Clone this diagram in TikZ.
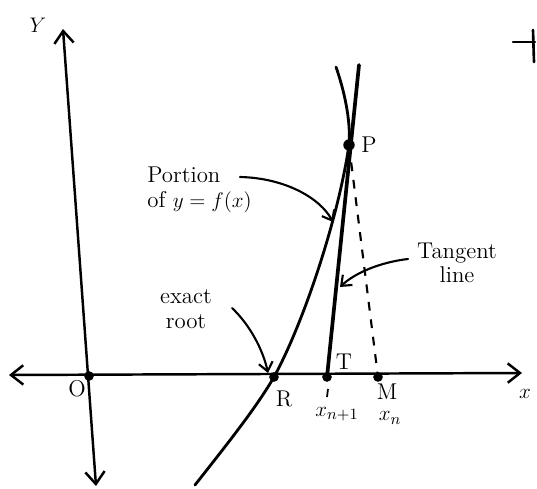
\documentclass[tikz,border=0pt]{standalone}
\usetikzlibrary{arrows.meta}
\begin{document}
\begin{tikzpicture}[x=0.02cm,y=-0.02cm,
  axis/.style={line width=1.4pt,line cap=round},
  curvel/.style={line width=1.6pt,line cap=round},
  tang/.style={line width=2.1pt,line cap=round},
  dashl/.style={line width=1.2pt,dash pattern=on 5pt off 5pt},
  pointer/.style={line width=1.2pt,line cap=round,-{Straight Barb[length=5pt,width=8pt,line width=1.2pt]}},
  dot/.style={circle,fill=black,inner sep=0pt,minimum size=5.5pt},
  lbl/.style={font=\fontsize{13}{15}\selectfont,inner sep=0pt},
  txt/.style={font=\fontsize{13}{14}\selectfont,align=center,inner sep=0pt}]
\useasboundingbox (0,0) rectangle (537,489);
% points
\node[dot] (O) at (89,376) {};
\node[dot] (R) at (274,377) {};
\node[dot] (X1) at (327,377) {};
\node[dot] (M) at (378,377) {};
\node[dot,minimum size=6.5pt] (P) at (349,145) {};
\coordinate (ytop) at (63,29);
\coordinate (ybot) at (96,486);
\coordinate (xl) at (9,375);
\coordinate (xr) at (522,373);
\coordinate (ttop) at (359,65);
\coordinate (cbot) at (195,485);
\coordinate (ctop) at (336,67);
% axes
\draw[axis,{Straight Barb[length=7pt,width=11pt,line width=1.4pt]}-{Straight Barb[length=7pt,width=11pt,line width=1.4pt]}] (ybot) -- (ytop);
\draw[axis,{Straight Barb[length=7pt,width=11pt,line width=1.4pt]}-{Straight Barb[length=7pt,width=11pt,line width=1.4pt]}] (xl) -- (xr);
% curve y=f(x)
\draw[curvel] (cbot) .. controls (228,443) and (256,408) .. (R.center)
  .. controls (303,324) and (338,220) .. (P.center)
  .. controls (351,120) and (344,90) .. (ctop);
% tangent line
\draw[tang] (X1.center) -- (ttop);
% dashed ordinate
\draw[dashl] (P.center) -- (M.center);
\draw[line width=1pt] (328,389) -- (327,397);
% labels
\node[lbl] (Ylab) at (38,25) {$Y$};
\node[lbl] (xlab) at (525,394) {$x$};
\node[lbl] (Olab) at (77,389) {O};
\node[lbl] (Rlab) at (284,399) {R};
\node[lbl] (Mlab) at (387,392) {M};
\node[lbl] (Plab) at (369,145) {P};
\node[lbl] (Tlab) at (344,362) {T};
\node[lbl] (x1lab) at (337,414) {$x_{n+1}$};
\node[lbl] (xnlab) at (390,418) {$x_n$};
% annotations
\node[txt,align=left,anchor=west] (por) at (147,190) {Portion\\of $y=f(x)$};
\node[txt] (root) at (186,309) {exact\\root};
\node[txt] (tan) at (457,263) {Tangent\\line};
\coordinate (porstart) at (240,177);
\coordinate (porend) at (333,222);
\coordinate (rootstart) at (232,308);
\coordinate (rootend) at (268,373);
\coordinate (tanstart) at (408,259);
\coordinate (tanend) at (340,287);
\draw[pointer] (porstart) .. controls (285,178) and (320,198) .. (porend);
\draw[pointer] (rootstart) .. controls (250,325) and (263,350) .. (rootend);
\draw[pointer] (tanstart) .. controls (382,262) and (356,272) .. (tanend);
% fragment at top right
\draw[line width=1.3pt,line cap=round] (513,42) -- (535,42);
\draw[line width=1.5pt,line cap=round] (533,30) -- (534,62);
\end{tikzpicture}
\end{document}
